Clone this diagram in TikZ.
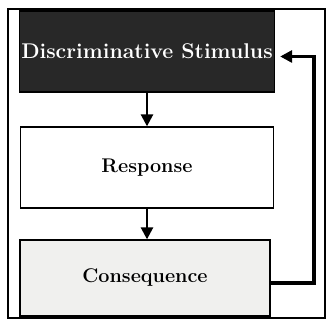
\documentclass[tikz,border=0pt]{standalone}
\usepackage{fontspec}
\usetikzlibrary{arrows.meta,calc}
\definecolor{stimcol}{RGB}{40,40,40}
\definecolor{conscol}{RGB}{240,240,238}

\begin{document}
\begin{tikzpicture}[x=1pt, y=-1pt, font=\bfseries,
  box/.style={draw, line width=1.3pt, minimum width=253pt, minimum height=81pt, inner sep=0pt},
  flow/.style={line width=2.6pt, -{Triangle[length=12pt, width=12pt]}}]

\useasboundingbox (0,0) rectangle (327,323);

% ---- Outer frame ----
\draw[line width=1.6pt] (8,9) rectangle (325,318);

% ---- Boxes ----
\node[box, fill=stimcol, text=white, minimum width=255pt] (stim) at (147,51.5)
  {\fontsize{21.3}{24}\selectfont Discriminative Stimulus};
\node[box, fill=white] (resp) at (147,167.5)
  {\fontsize{19.8}{22}\selectfont Response};
\node[box, fill=conscol, minimum width=250pt, minimum height=76pt] (cons) at (145,278)
  {\fontsize{19.8}{22}\selectfont Consequence};

% ---- Arrows down ----
\draw[flow] (stim.south) -- (resp.north);
\draw[flow] (resp.south) -- (resp.south |- cons.north);

% ---- Feedback loop ----
\coordinate (back) at ($(stim.east)+(39,5)$);
\draw[flow, line width=3.4pt, shorten >=5pt] ($(cons.east)+(0,5)$) -| (back) -- ($(stim.east)+(0,5)$);

\end{tikzpicture}
\end{document}
